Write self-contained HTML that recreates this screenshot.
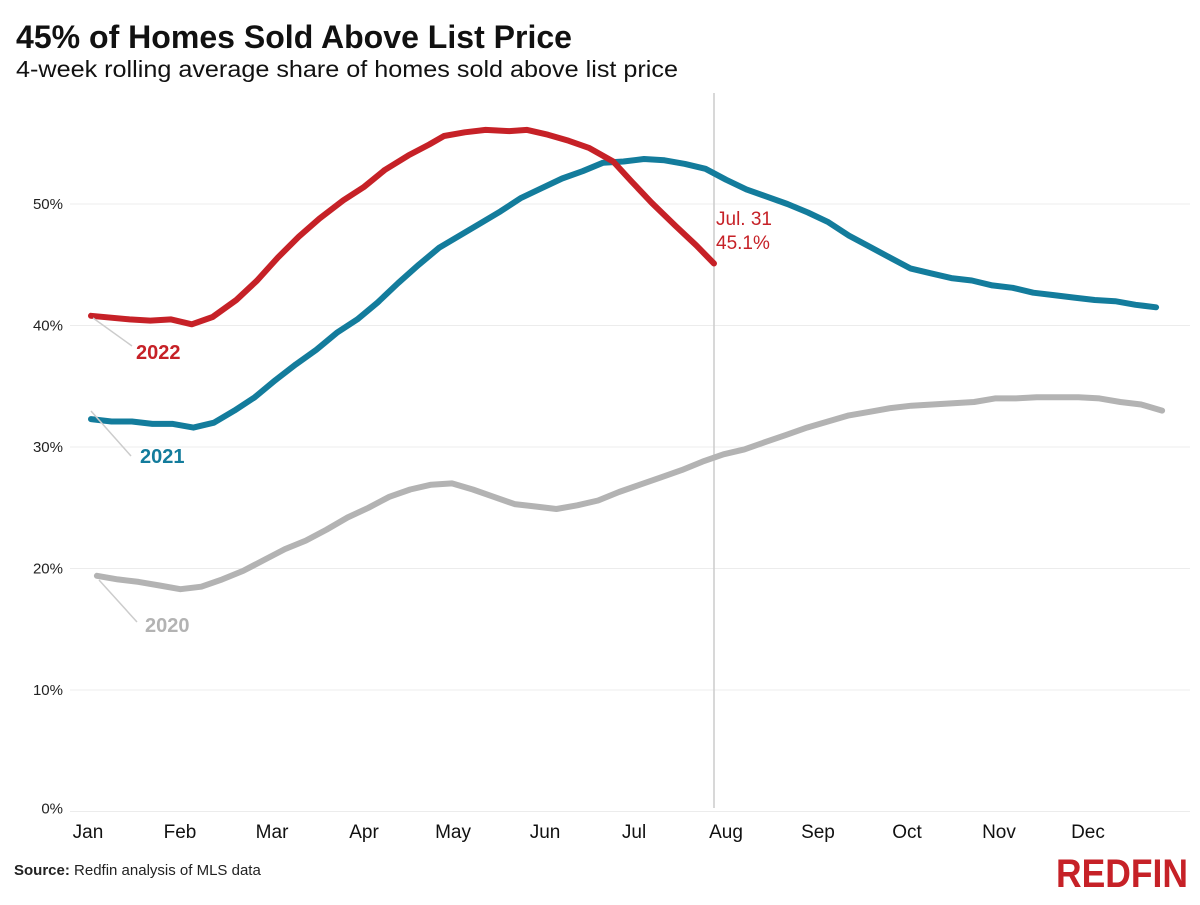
<!DOCTYPE html>
<html><head><meta charset="utf-8"><style>
body{margin:0;background:#fff;font-family:"Liberation Sans",sans-serif;}
svg text{font-family:"Liberation Sans",sans-serif;}
</style></head><body>
<svg id="chart" width="1200" height="900" xmlns="http://www.w3.org/2000/svg">
<rect width="1200" height="900" fill="#fff"/>
<text x="16" y="48" font-size="32" font-weight="bold" fill="#111" textLength="556" lengthAdjust="spacingAndGlyphs">45% of Homes Sold Above List Price</text>
<text x="16" y="77" font-size="23" fill="#111" textLength="662" lengthAdjust="spacingAndGlyphs">4-week rolling average share of homes sold above list price</text>
<g id="grid"></g><g id="ylab"></g><g id="xlab"></g>
<line x1="714" y1="93" x2="714" y2="808" stroke="#ccc" stroke-width="1.5"/>
<g id="series"></g>
<text x="716" y="225" font-size="19" fill="#c62127">Jul. 31</text>
<text x="716" y="249" font-size="19" fill="#c62127">45.1%</text>
<line x1="93" y1="318" x2="132" y2="346" stroke="#ccc" stroke-width="1.5"/>
<text x="136" y="359" font-size="20" font-weight="bold" fill="#c62127">2022</text>
<line x1="91" y1="411" x2="131" y2="456" stroke="#ccc" stroke-width="1.5"/>
<text x="140" y="463" font-size="20" font-weight="bold" fill="#137c9c">2021</text>
<line x1="99" y1="580" x2="137" y2="622" stroke="#ccc" stroke-width="1.5"/>
<text x="145" y="632" font-size="20" font-weight="bold" fill="#b3b3b3">2020</text>
<text x="14" y="875" font-size="15" fill="#222"><tspan font-weight="bold">Source:</tspan> Redfin analysis of MLS data</text>
<text x="1188" y="887" text-anchor="end" font-size="40" font-weight="bold" fill="#c62127" textLength="132" lengthAdjust="spacingAndGlyphs">REDFIN</text>
</svg>
<script>
const yTicks=[0,10,20,30,40,50];
const months=["Jan","Feb","Mar","Apr","May","Jun","Jul","Aug","Sep","Oct","Nov","Dec"];
const monthDays=[0,31,59,90,120,151,181,212,243,273,304,334];
const days2022=[1,14,21,28,35,42,50,57,64,71,78,86,93,100,108,115,120,127,134,142,148,155,162,169,177,183,190,198,205,211];
const vals2022=[40.8,40.5,40.4,40.5,40.1,40.7,42.1,43.7,45.6,47.3,48.8,50.3,51.4,52.8,54.0,54.9,55.6,55.9,56.1,56.0,56.1,55.7,55.2,54.6,53.5,51.9,50.1,48.2,46.6,45.1];
const vals2021=[32.3,32.1,32.1,31.9,31.9,31.6,32.0,33.0,34.1,35.5,36.8,38.0,39.4,40.5,41.9,43.5,45.0,46.4,47.4,48.4,49.4,50.5,51.3,52.1,52.7,53.4,53.5,53.7,53.6,53.3,52.9,52.0,51.2,50.6,50.0,49.3,48.5,47.4,46.5,45.6,44.7,44.3,43.9,43.7,43.3,43.1,42.7,42.5,42.3,42.1,42.0,41.7,41.5];
const vals2020=[19.4,19.1,18.9,18.6,18.3,18.5,19.1,19.8,20.7,21.6,22.3,23.2,24.2,25.0,25.9,26.5,26.9,27.0,26.5,25.9,25.3,25.1,24.9,25.2,25.6,26.3,26.9,27.5,28.1,28.8,29.4,29.8,30.4,31.0,31.6,32.1,32.6,32.9,33.2,33.4,33.5,33.6,33.7,34.0,34.0,34.1,34.1,34.1,34.0,33.7,33.5,33.0];
const start2021=1, end2021=360, start2020=3, end2020=362;
const ns="http://www.w3.org/2000/svg";
const X=d=>88+d*2.967;
const Y=v=>690-(v-10)*12.15;
function mk(t,a,p){const e=document.createElementNS(ns,t);for(const k in a)e.setAttribute(k,a[k]);document.getElementById(p).appendChild(e);return e;}
yTicks.forEach(v=>{
 const g=mk("line",{x1:70,x2:1190,y1:Y(v),y2:Y(v),stroke:"#ececec","stroke-width":1},"grid");
 
 
 const t=mk("text",{x:63,y:(v==0?Y(v)-3:Y(v))+5,"text-anchor":"end","font-size":15,fill:"#222"},"ylab");
 t.textContent=v+"%";
 
 
});
months.forEach((m,i)=>{
 const t=mk("text",{x:X(monthDays[i])+(i<2?0:9),y:838,"text-anchor":"middle","font-size":19,fill:"#111"},"xlab");
 t.textContent=m;
 
 
});
function line(days,vals,color,name){
 const d=vals.map((v,i)=>(i?"L":"M")+X(days[i]).toFixed(1)+","+Y(v).toFixed(1)).join("");
 const p=mk("path",{d:d,fill:"none",stroke:color,"stroke-width":6,"stroke-linejoin":"round","stroke-linecap":"round"},"series");
 
 
}
const spread=(s,e,n)=>Array.from({length:n},(_,i)=>s+i*(e-s)/(n-1));
line(spread(start2020,end2020,vals2020.length),vals2020,"#b3b3b3","series-2020-line");
line(spread(start2021,end2021,vals2021.length),vals2021,"#137c9c","series-2021-line");
line(days2022,vals2022,"#c62127","series-2022-line");
</script>
</body></html>
